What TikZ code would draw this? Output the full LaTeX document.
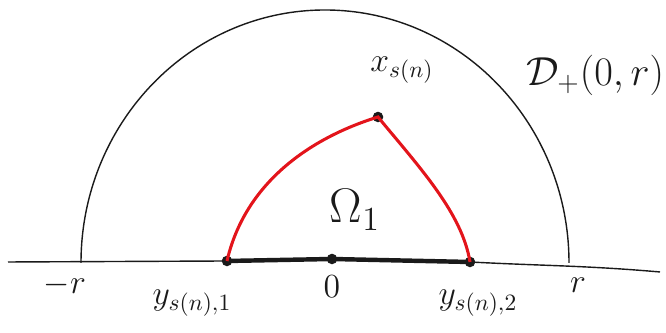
\documentclass[tikz,border=0pt]{standalone}
\usepackage{amsmath,amssymb}
\usepackage{xcolor}
\usepackage{tikz}
\usetikzlibrary{calc,positioning}
\definecolor{regc}{HTML}{E3141B}
\definecolor{inkc}{HTML}{1A1A1A}
\tikzset{
  pen/.style={inkc,line width=0.6pt},
  seg/.style={inkc,line width=1.9pt},
  bd/.style={regc,line width=1.3pt},
  pt/.style={circle,fill=inkc,inner sep=0pt,minimum size=4.5pt},
  lb/.style={inkc,font=\Large,inner sep=1pt}
}
\begin{document}
\begin{tikzpicture}[x=0.015cm,y=0.015cm]
\useasboundingbox (0,0) rectangle (666,333);
% points on the axis and the corner
\coordinate (bl) at (8,71);
\coordinate (br) at (660,61);
\coordinate (lf) at (81,70);
\node[pt] (y1) at (227,72) {};
\node[pt] (o) at (332,74) {};
\node[pt] (y2) at (470,71) {};
\node[pt] (xs) at (378,216) {};
% half disc
\draw[pen] (lf) arc[start angle=180,end angle=0,x radius=244,y radius=253];
\draw[pen] (bl) -- (y1.center) -- (o.center) -- (y2.center) to[out=-3,in=175] (br);
\draw[seg] (y1.center) -- (o.center) -- (y2.center);
% region
\draw[bd] (y1.center) .. controls (245,150) and (310,195) .. (xs.center)
  .. controls (420,165) and (462,120) .. (y2.center);
% labels
\node[lb] (mr) at (65,48) {$-r$};
\node[lb] (zr) at (332,46) {$0$};
\node[lb] (pr) at (578,48) {$r$};
\node[lb] (ly1) at (192,30) {$y_{s(n),1}$};
\node[lb] (ly2) at (478,30) {$y_{s(n),2}$};
\node[lb] (lxs) at (402,263) {$x_{s(n)}$};
\node[lb,font=\huge] (om) at (355,123) {$\Omega_1$};
\node[lb,font=\LARGE] (dp) at (595,258) {$\mathcal{D}_+(0,r)$};
\end{tikzpicture}
\end{document}
